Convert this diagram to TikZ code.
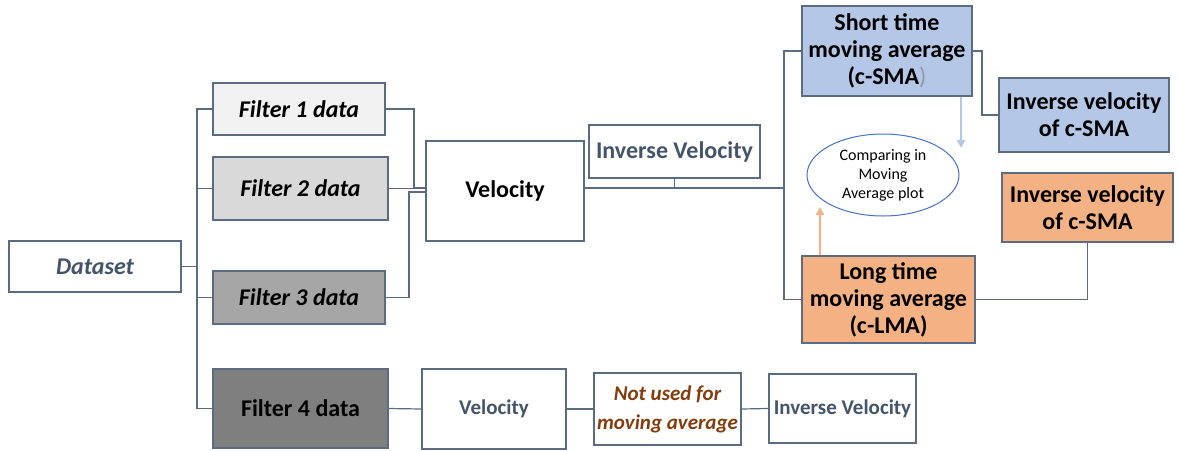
\documentclass[tikz,border=0pt]{standalone}
\usepackage{fontspec}
\setmainfont{Carlito}
\usetikzlibrary{arrows.meta,shapes.geometric}
\definecolor{edge}{HTML}{5B6B82}
\definecolor{slate}{HTML}{44546A}
\definecolor{fone}{HTML}{F2F2F2}
\definecolor{ftwo}{HTML}{D9D9D9}
\definecolor{fthree}{HTML}{A6A6A6}
\definecolor{ffour}{HTML}{7F7F7F}
\definecolor{smablue}{HTML}{B4C7E7}
\definecolor{lmaorange}{HTML}{F4B183}
\definecolor{ellblue}{HTML}{4472C4}
\definecolor{rust}{HTML}{843C0C}
\tikzset{
  box/.style={draw=edge, line width=0.6pt, fill=white, inner sep=1pt, align=center,
    font=\fontsize{12}{13.5}\selectfont\bfseries, text=black},
  smallbox/.style={box, inner sep=0.5pt, font=\fontsize{10.5}{14.5}\selectfont\bfseries},
  slatetext/.style={text=slate},
  link/.style={draw=edge, line width=0.6pt},
  smaarrow/.style={draw=smablue, line width=1pt, -{Triangle[width=4pt,length=4pt]}},
  lmaarrow/.style={draw=lmaorange, line width=1pt, -{Triangle[width=4pt,length=4pt]}},
}
\begin{document}
\begin{tikzpicture}[x=0.5pt, y=-0.5pt]
\useasboundingbox (0,0) rectangle (1178,450);

% source and filtered subsets
\node[box, slatetext, minimum width=86pt, minimum height=25.5pt] (ds) at (95,266.5) {\itshape Dataset};
\node[box, fill=fone, minimum width=86pt, minimum height=26pt] (f1) at (299,109) {\itshape Filter 1 data};
\node[box, fill=ftwo, minimum width=87.5pt, minimum height=31.5pt] (f2) at (300.5,188.5) {\itshape Filter 2 data};
\node[box, fill=fthree, minimum width=86pt, minimum height=26.5pt] (f3) at (299,297.5) {\itshape Filter 3 data};
\node[box, fill=ffour, minimum width=87.5pt, minimum height=39.5pt] (f4) at (300.5,408.5) {Filter 4 data};

% main processing chain
\node[box, minimum width=79pt, minimum height=50pt] (vel) at (505,191) {Velocity};
\node[box, slatetext, minimum width=85.5pt, minimum height=26.5pt] (iv) at (674.5,151.5) {Inverse Velocity};

% moving averages
\node[box, fill=smablue, minimum width=85pt, minimum height=45pt] (sma) at (887,51)
  {Short time\\moving average\\(c-SMA{\mdseries\color{slate!60})}};
\node[box, fill=smablue, minimum width=85pt, minimum height=37pt] (ivs) at (1084,115)
  {Inverse velocity\\of c-SMA};
\node[draw=ellblue, line width=0.5pt, ellipse, minimum width=76pt, minimum height=41pt, inner sep=0pt,
  align=center, font=\fontsize{8}{9.5}\selectfont] (cmp) at (883,175)
  {Comparing in\\Moving\\Average plot};
\node[box, fill=lmaorange, minimum width=85.5pt, minimum height=34.5pt] (ivl) at (1087.5,207.5)
  {Inverse velocity\\of c-SMA};
\node[box, fill=lmaorange, minimum width=86.5pt, minimum height=43.5pt] (lma) at (888.5,299.5)
  {Long time\\moving average\\(c-LMA)};

% unused branch
\node[smallbox, slatetext, minimum width=72pt, minimum height=40pt] (vel2) at (494,409) {Velocity};
\node[smallbox, text=rust, minimum width=73.5pt, minimum height=36pt] (nu) at (667.5,409)
  {\itshape Not used for\\\itshape moving average};
\node[smallbox, slatetext, minimum width=73.5pt, minimum height=34.5pt] (iv2) at (842.5,408.5) {Inverse Velocity};

% junction points
\coordinate (bus) at (197,266.5);
\coordinate (j1) at (414,188);
\coordinate (j3) at (409,192);
\coordinate (hub) at (784,188);
\coordinate (j4) at (982,115);
\coordinate (bt) at (961,148);
\coordinate (ot) at (820,207);

% dataset to filters
\draw[link] (ds.east) -- (bus);
\draw[link] (f1.west) -| (bus) |- (f4.west);
\draw[link] (f2.west) -- (f2.west -| bus);
\draw[link] (f3.west) -- (f3.west -| bus);

% filters 1-3 to velocity
\draw[link] (f1.east) -| (j1) -- (j1 -| vel.west);
\draw[link] (f2.east) -- (f2.east -| vel.west);
\draw[link] (f3.east) -| (j3) -- (j3 -| vel.west);

% velocity to moving averages
\draw[link] (vel.east |- hub) -- (hub);
\draw[link] (iv.south) -- (iv.south |- hub);
\draw[link] (sma.west) -| (hub) |- (lma.west);
\draw[link] (sma.east) -| (j4) -- (ivs.west);
\draw[link] (lma.east) -| (ivl.south);

% into the comparison
\draw[smaarrow] (bt |- sma.south) -- (bt);
\draw[lmaarrow] (ot |- lma.north) -- (ot);

% filter 4 branch
\draw[link] (f4.east) -- (vel2.west);
\draw[link] (vel2.east) -- (nu.west);
\draw[link] (nu.east) -- (iv2.west);
\end{tikzpicture}
\end{document}
